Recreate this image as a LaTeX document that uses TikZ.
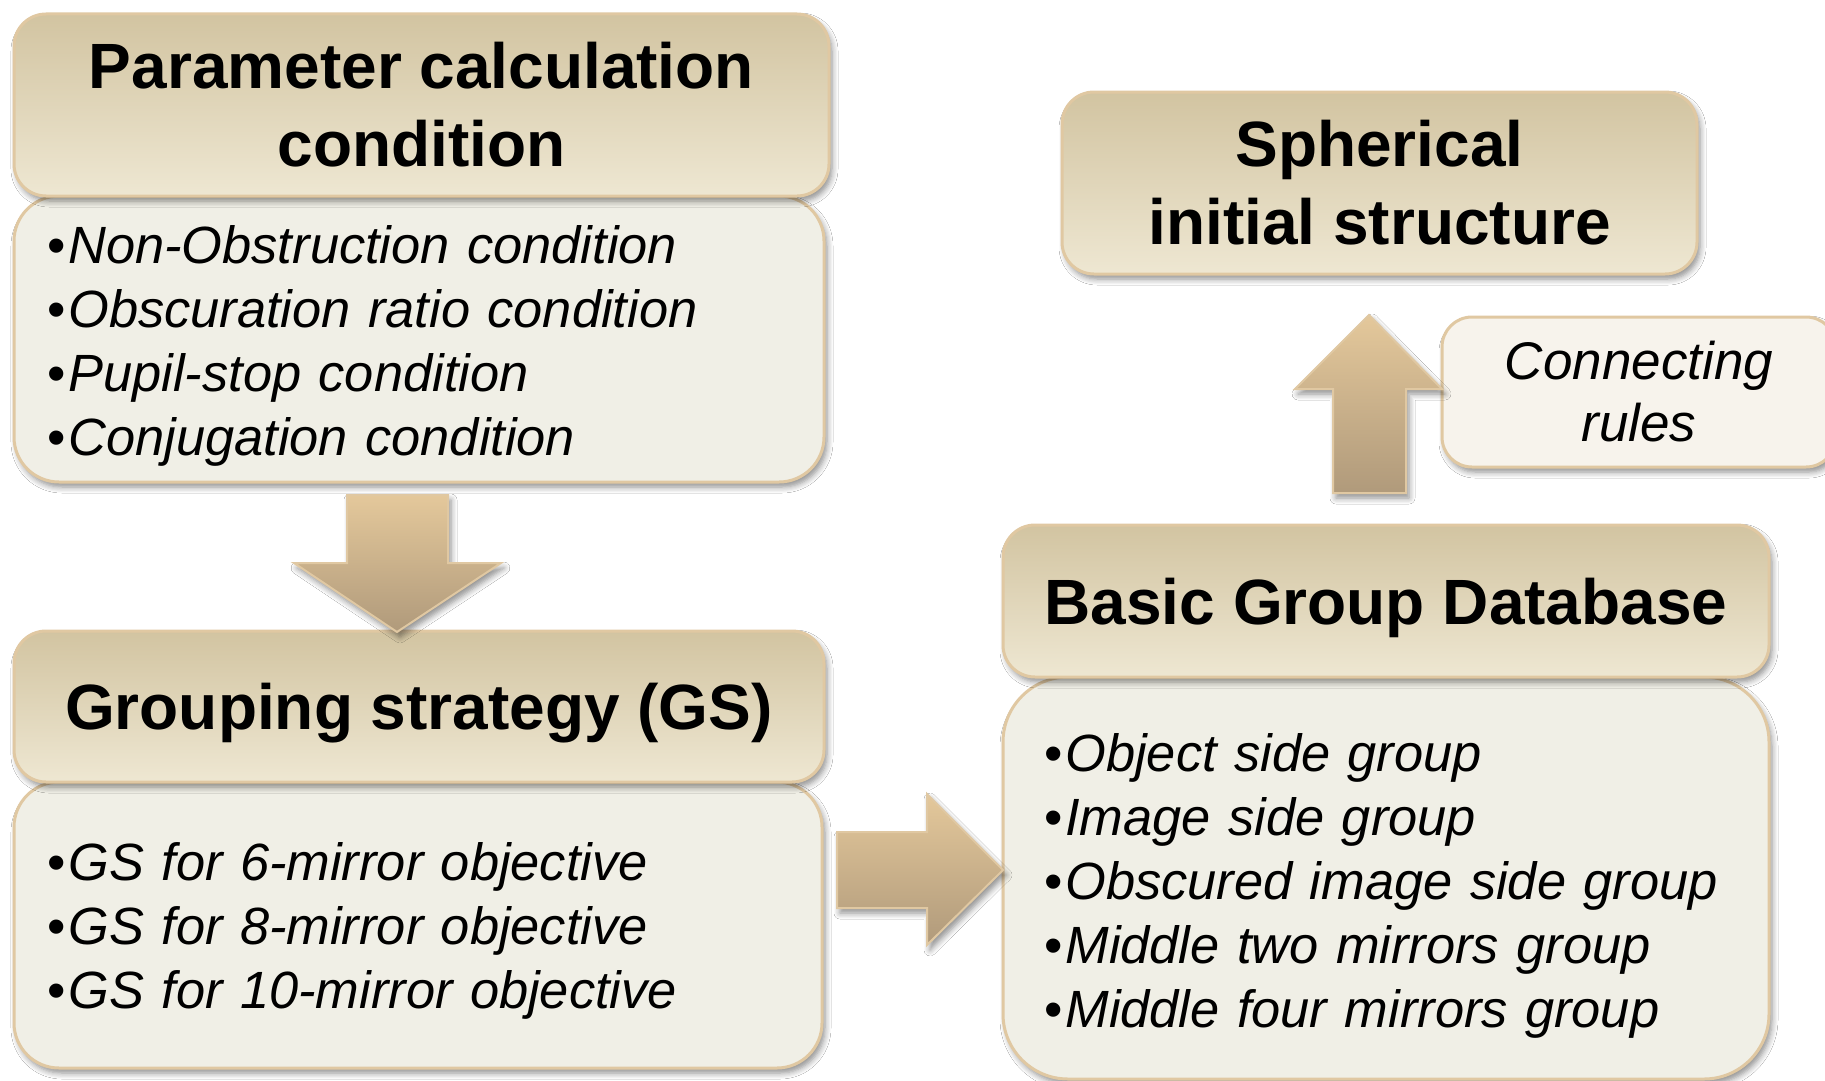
\documentclass[tikz,border=0pt]{standalone}
\usepackage{fontspec}
\setmainfont{Liberation Sans}
\usetikzlibrary{shadows.blur}

\definecolor{hdrtop}{HTML}{D2C4A1}
\definecolor{hdrbot}{HTML}{EEE7D2}
\definecolor{bodyfill}{HTML}{F0EFE6}
\definecolor{rulefill}{HTML}{F7F3EC}
\definecolor{edgetan}{HTML}{E0C8A2}
\definecolor{arrtop}{HTML}{E4C89B}
\definecolor{arrbot}{HTML}{B09A7B}

\tikzset{
  softshadow/.style={blur shadow={shadow xshift=3pt, shadow yshift=-5pt,
      shadow blur radius=6pt, shadow blur steps=6, shadow opacity=45}},
  hdrbox/.style={draw=edgetan, line width=3pt, rounded corners=32pt,
      top color=hdrtop, bottom color=hdrbot, softshadow, inner sep=0pt,
      outer sep=0pt, anchor=north west, align=center,
      font=\fontsize{64}{78}\selectfont\bfseries},
  oneline/.style={text height=46pt, text depth=0pt},
  listbox/.style={draw=edgetan, line width=3pt, fill=bodyfill, softshadow,
      inner sep=0pt, outer sep=0pt, anchor=north west},
  listtext/.style={inner sep=0pt, align=left, yshift=-7pt,
      font=\fontsize{52.4}{64}\selectfont\itshape},
  rulebox/.style={draw=edgetan, line width=3pt, rounded corners=30pt,
      fill=rulefill, softshadow, inner sep=0pt, outer sep=0pt,
      anchor=north west, align=center,
      font=\fontsize{53}{62}\selectfont\itshape},
  blockarrow/.style={draw=edgetan, line width=2pt, top color=arrtop,
      bottom color=arrbot, softshadow},
}
\newcommand{\bul}{{\upshape\textbullet}\hspace{3pt}}

\begin{document}
\begin{tikzpicture}[x=1pt,y=-1pt]
\useasboundingbox (0,0) rectangle (1825,1081);
\fill[white] (0,0) rectangle (1825,1081);

% Parameter calculation block
\node[listbox, rounded corners=45pt, minimum width=810pt,
      minimum height=286pt] (pbody) at (14,196) {};
\node[listtext, text width=744pt] (ptext) at (pbody.center)
  {\bul Non-Obstruction condition\\
   \bul Obscuration ratio condition\\
   \bul Pupil-stop condition\\
   \bul Conjugation condition};
\node[hdrbox, minimum width=815pt, minimum height=182pt] (phdr) at (14,14)
  {Parameter calculation\\condition};

% Grouping strategy block
\node[listbox, rounded corners=45pt, minimum width=808pt,
      minimum height=286pt] (gbody) at (14,782) {};
\node[listtext, text width=742pt, yshift=1pt] (gtext) at (gbody.center)
  {\bul GS for 6-mirror objective\\
   \bul GS for 8-mirror objective\\
   \bul GS for 10-mirror objective};
\node[hdrbox, oneline, minimum width=810pt, minimum height=151pt] (ghdr)
  at (14,631) {Grouping strategy (GS)};

% Basic group database block
\node[listbox, rounded corners=65pt, minimum width=766pt,
      minimum height=402pt] (bbody) at (1003,677) {};
\node[listtext, text width=684pt, yshift=-1pt] (btext) at (bbody.center)
  {\bul Object side group\\
   \bul Image side group\\
   \bul Obscured image side group\\
   \bul Middle two mirrors group\\
   \bul Middle four mirrors group};
\node[hdrbox, oneline, minimum width=766pt, minimum height=152pt] (bhdr)
  at (1003,525) {Basic Group Database};

% Result block
\node[hdrbox, minimum width=635pt, minimum height=182pt] (shdr) at (1062,92)
  {Spherical\\initial structure};

% Side note next to the up arrow
\node[rulebox, minimum width=394pt, minimum height=150pt] (rules) at (1442,317)
  {Connecting\\rules};

% Block arrows between the stages
\draw[blockarrow] (347,495) -- (448,495) -- (448,563) -- (501,563)
  -- (397,632) -- (294,563) -- (347,563) -- cycle;
\draw[blockarrow] (837,832) -- (927,832) -- (927,794) -- (1003,870)
  -- (927,945) -- (927,908) -- (837,908) -- cycle;
\draw[blockarrow] (1333,493) -- (1333,389) -- (1295,389) -- (1369,315)
  -- (1442,389) -- (1406,389) -- (1406,493) -- cycle;
\end{tikzpicture}
\end{document}
